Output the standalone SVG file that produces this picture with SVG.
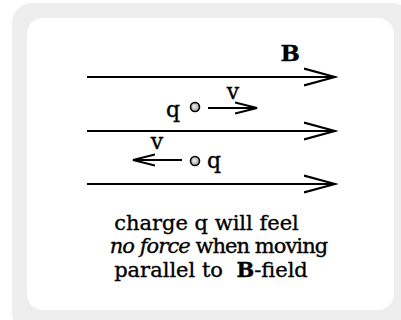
<svg xmlns="http://www.w3.org/2000/svg" width="401" height="320" viewBox="0 0 401 320">
  <style>
    .txt { font-family: "DejaVu Serif", "Liberation Serif", serif; font-size: 21px; fill: #000; stroke: #000; stroke-width: 0.35; white-space: pre; }
    .b { font-weight: bold; }
    .i { font-style: italic; }
    .field { stroke: #000; stroke-width: 2.2; fill: none; }
    .vel { stroke: #000; stroke-width: 2; fill: none; }
    .charge { fill: url(#cg); stroke: #000; stroke-width: 1.6; }
  </style>
  <defs>
    <radialGradient id="cg" cx="0.45" cy="0.45" r="0.6">
      <stop offset="0" stop-color="#f0f0f0"/>
      <stop offset="1" stop-color="#999"/>
    </radialGradient>
    <marker id="bigHead" markerUnits="userSpaceOnUse" viewBox="0 0 34 20" markerWidth="34" markerHeight="20" refX="31" refY="10" orient="auto">
      <path d="M0,1.5 L31,10 L0,18.5" fill="none" stroke="#000" stroke-width="2.2"/>
    </marker>
    <marker id="smallHead" markerUnits="userSpaceOnUse" viewBox="0 0 26 16" markerWidth="26" markerHeight="16" refX="22" refY="8" orient="auto">
      <path d="M0,2.5 L22,8 L0,13.5" fill="none" stroke="#000" stroke-width="2"/>
    </marker>
  </defs>

  <g id="frame">
    <rect x="12" y="3" width="400" height="330" rx="20" fill="#eeeeee"/>
    <rect x="27" y="18" width="367" height="292" rx="16" fill="#ffffff"/>
  </g>

  <g id="connectors">
    <line class="field" x1="87" y1="77" x2="335" y2="77" marker-end="url(#bigHead)"/>
    <line class="field" x1="87" y1="131" x2="335" y2="131" marker-end="url(#bigHead)"/>
    <line class="field" x1="87" y1="184" x2="335" y2="184" marker-end="url(#bigHead)"/>
    <line class="vel" x1="208" y1="108" x2="257" y2="108" marker-end="url(#smallHead)"/>
    <line class="vel" x1="182" y1="160" x2="133" y2="160" marker-end="url(#smallHead)"/>
  </g>

  <g id="label-B">
    <text class="txt b" x="300" y="61" text-anchor="end" style="font-size:23px">B</text>
  </g>

  <g id="charge-upper">
    <circle class="charge" cx="195" cy="107" r="4.5"/>
    <text class="txt" x="173" y="117" text-anchor="middle" style="font-size:22px">q</text>
    <text class="txt" x="233" y="99" text-anchor="middle" style="font-size:22px">v</text>
  </g>

  <g id="charge-lower">
    <circle class="charge" cx="195" cy="161" r="4.5"/>
    <text class="txt" x="214" y="168" text-anchor="middle" style="font-size:22px">q</text>
    <text class="txt" x="157" y="149" text-anchor="middle" style="font-size:22px">v</text>
  </g>

  <g id="caption">
    <text class="txt" x="206.5" y="230" text-anchor="middle">charge q will feel</text>
    <text class="txt" x="218.5" y="253" text-anchor="middle" letter-spacing="-0.95"><tspan class="i">no force</tspan> when moving</text>
    <text class="txt" x="211" y="277" text-anchor="middle">parallel to  <tspan class="b">B</tspan>-field</text>
  </g>
</svg>
